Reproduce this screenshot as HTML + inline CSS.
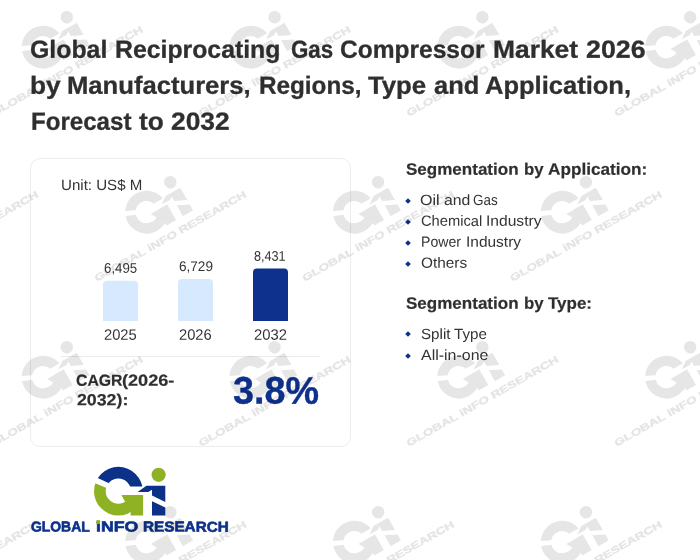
<!DOCTYPE html>
<html lang="en">
<head>
<meta charset="utf-8">
<title>Global Reciprocating Gas Compressor Market 2026</title>
<style>
  html, body { margin: 0; padding: 0; }
  body {
    width: 700px; height: 560px; overflow: hidden; position: relative;
    background: #ffffff;
    font-family: "Liberation Sans", sans-serif;
    color: #333333;
  }
  .g { margin: 0; padding: 0; font-size: inherit; font-weight: inherit; list-style: none; display: block; }
  .abs { position: absolute; display: block; white-space: nowrap; line-height: 1; transform-origin: 0 0; }
  .layer { position: absolute; left: 0; top: 0; width: 700px; height: 560px; will-change: transform; }
  #wm { position: absolute; left: 0; top: 0; width: 700px; height: 560px; pointer-events: none; }
  #logo { position: absolute; left: 0; top: 440px; width: 350px; height: 120px; }

  .title { font-weight: bold; color: #2f2f2f; -webkit-text-stroke: 0.3px #2f2f2f; }
  .card {
    position: absolute; left: 30px; top: 158px; width: 319px; height: 287px;
    border: 1px solid #eaecef; border-radius: 10px;
  }
  .unit, .val, .yr, .li { color: #333333; }
  .sep { position: absolute; left: 61px; top: 356px; width: 259px; height: 1px; background: #e9ebee; }
  .cagr { font-weight: bold; color: #2f2f2f; -webkit-text-stroke: 0.2px #2f2f2f; }
  .big { font-weight: bold; color: #0d318c; -webkit-text-stroke: 0.4px #0d318c; }
  .h { font-weight: bold; color: #2f2f2f; -webkit-text-stroke: 0.2px #2f2f2f; }
  .lg { font-weight: bold; color: #0c3189; -webkit-text-stroke: 0.6px #0c3189; }
  .idot { position: absolute; left: 95.6px; top: 520.4px; width: 4.6px; height: 3.8px; border-radius: 2.2px 2.2px 1.2px 1.2px; background: #8fb124; }
  .dia { position: absolute; width: 4px; height: 4px; background: #0d318c; transform: rotate(45deg); }
</style>
</head>
<body>
<div class="layer">
  <div class="card"></div>

  <svg id="bars" width="700" height="560" viewBox="0 0 700 560" style="position:absolute;left:0;top:0"><path fill="#d7e9fe" d="M103,321.1V284.7a4,4 0 0 1 4,-4h27a4,4 0 0 1 4,4V321.1Z"/><path fill="#d7e9fe" d="M178,321.1V283.0a4,4 0 0 1 4,-4h27a4,4 0 0 1 4,4V321.1Z"/><path fill="#0d318c" d="M253,321.1V272.5a4,4 0 0 1 4,-4h27a4,4 0 0 1 4,4V321.1Z"/></svg>
  <div class="sep"></div>

  <div class="dia" style="left:406.2px; top:198.9px;"></div>
  <div class="dia" style="left:406.2px; top:219.8px;"></div>
  <div class="dia" style="left:406.2px; top:240.9px;"></div>
  <div class="dia" style="left:406.2px; top:261.7px;"></div>
  <div class="dia" style="left:406.2px; top:332.3px;"></div>
  <div class="dia" style="left:406.2px; top:353.8px;"></div>

  <h1 class="g">
    <span class="g"><span class="abs title" id="t1a" style="left:30.20px; top:37px; font-size:24.8px; transform:translateY(0.70px) scaleX(1.0027) rotate(0.03deg);">Global</span> <span class="abs title" id="t1b" style="left:115.25px; top:37px; font-size:24.8px; transform:translateY(0.70px) scaleX(1.0006) rotate(0.03deg);">Reciprocating</span> <span class="abs title" id="t1c" style="left:290.50px; top:37px; font-size:24.8px; transform:translateY(0.70px) scaleX(0.8983) rotate(0.03deg);">Gas</span> <span class="abs title" id="t1d" style="left:339.91px; top:37px; font-size:24.8px; transform:translateY(0.70px) scaleX(0.9893) rotate(0.03deg);">Compressor</span> <span class="abs title" id="t1e" style="left:492.54px; top:37px; font-size:24.8px; transform:translateY(0.70px) scaleX(1.0641) rotate(0.03deg);">Market</span> <span class="abs title" id="t1f" style="left:585.59px; top:37px; font-size:24.8px; transform:translateY(0.70px) scaleX(1.0804) rotate(0.03deg);">2026</span></span>
    <span class="g"><span class="abs title" id="t2a" style="left:29.55px; top:73px; font-size:24.8px; transform:translateY(0.75px) scaleX(1.0593) rotate(0.03deg);">by</span> <span class="abs title" id="t2b" style="left:67.29px; top:73px; font-size:24.8px; transform:translateY(0.75px) scaleX(1.0336) rotate(0.03deg);">Manufacturers,</span> <span class="abs title" id="t2c" style="left:259.09px; top:73px; font-size:24.8px; transform:translateY(0.75px) scaleX(0.9788) rotate(0.03deg);">Regions,</span> <span class="abs title" id="t2d" style="left:368.34px; top:73px; font-size:24.8px; transform:translateY(0.75px) scaleX(1.0382) rotate(0.03deg);">Type</span> <span class="abs title" id="t2e" style="left:433.53px; top:73px; font-size:24.8px; transform:translateY(0.75px) scaleX(1.0251) rotate(0.03deg);">and</span> <span class="abs title" id="t2f" style="left:485.23px; top:73px; font-size:24.8px; transform:translateY(0.75px) scaleX(1.0294) rotate(0.03deg);">Application,</span></span>
    <span class="g"><span class="abs title" id="t3a" style="left:30.60px; top:109px; font-size:24.8px; transform:translateY(0.80px) scaleX(0.9719) rotate(0.03deg);">Forecast</span> <span class="abs title" id="t3b" style="left:139.03px; top:109px; font-size:24.8px; transform:translateY(0.80px) scaleX(1.0607) rotate(0.03deg);">to</span> <span class="abs title" id="t3c" style="left:171.30px; top:109px; font-size:24.8px; transform:translateY(0.80px) scaleX(1.0636) rotate(0.03deg);">2032</span></span>
  </h1>
  <div class="g">
    <div class="g"><span class="abs unit" id="unit" style="left:60.52px; top:178px; font-size:14.8px; transform:translateY(0.05px) scaleX(1.0201) rotate(0.03deg);">Unit: US$ M</span></div>
    <div class="g"><span class="abs val" id="v1" style="left:104.19px; top:260px; font-size:14.0px; transform:translateY(0.70px) scaleX(0.9481) rotate(0.03deg);">6,495</span> <span class="abs val" id="v2" style="left:178.87px; top:259px; font-size:14.0px; transform:translateY(0.00px) scaleX(0.9701) rotate(0.03deg);">6,729</span> <span class="abs val" id="v3" style="left:254.15px; top:248px; font-size:14.0px; transform:translateY(0.80px) scaleX(0.9037) rotate(0.03deg);">8,431</span></div>
    <div class="g"><span class="abs yr" id="y1" style="left:104.16px; top:326px; font-size:15.0px; transform:translateY(0.83px) scaleX(0.9813) rotate(0.03deg);">2025</span> <span class="abs yr" id="y2" style="left:179.16px; top:326px; font-size:15.0px; transform:translateY(0.83px) scaleX(0.9813) rotate(0.03deg);">2026</span> <span class="abs yr" id="y3" style="left:254.16px; top:326px; font-size:15.0px; transform:translateY(0.83px) scaleX(0.9890) rotate(0.03deg);">2032</span></div>
    <div class="g"><span class="abs cagr" id="c1a" style="left:76.16px; top:372px; font-size:16.0px; transform:translateY(0.70px) scaleX(0.9870) rotate(0.03deg);">CAGR</span><span class="abs cagr" id="c1b" style="left:122.15px; top:372px; font-size:16.0px; transform:translateY(0.70px) scaleX(1.1330) rotate(0.03deg);">(2026-</span> <span class="abs cagr" id="c2" style="left:76.55px; top:392px; font-size:16.0px; transform:translateY(0.30px) scaleX(1.1096) rotate(0.03deg);">2032):</span></div>
    <div class="g"><span class="abs big" id="big" style="left:233.42px; top:371px; font-size:38.3px; transform:translateY(0.60px) scaleX(0.9842) rotate(0.03deg);">3.8%</span></div>
  </div>
  <h2 class="g"><span class="abs h" id="h1a" style="left:406.18px; top:160px; font-size:16.5px; transform:translateY(0.70px) scaleX(1.0316) rotate(0.03deg);">Segmentation</span> <span class="abs h" id="h1b" style="left:523.98px; top:160px; font-size:16.5px; transform:translateY(0.70px) scaleX(1.0167) rotate(0.03deg);">by</span> <span class="abs h" id="h1c" style="left:548.28px; top:160px; font-size:16.5px; transform:translateY(0.70px) scaleX(1.0413) rotate(0.03deg);">Application:</span></h2>
  <ul class="g">
    <li class="g"><span class="abs li" id="l1a" style="left:420.49px; top:192px; font-size:14.8px; transform:translateY(0.95px) scaleX(1.0831) rotate(0.03deg);">Oil</span> <span class="abs li" id="l1b" style="left:443.60px; top:192px; font-size:14.8px; transform:translateY(0.95px) scaleX(1.0696) rotate(0.03deg);">and</span> <span class="abs li" id="l1c" style="left:473.32px; top:192px; font-size:14.8px; transform:translateY(0.95px) scaleX(0.9087) rotate(0.03deg);">Gas</span></li>
    <li class="g"><span class="abs li" id="l2a" style="left:420.65px; top:213px; font-size:14.8px; transform:translateY(0.85px) scaleX(0.9933) rotate(0.03deg);">Chemical</span> <span class="abs li" id="l2b" style="left:486.08px; top:213px; font-size:14.8px; transform:translateY(0.85px) scaleX(1.0537) rotate(0.03deg);">Industry</span></li>
    <li class="g"><span class="abs li" id="l3a" style="left:420.81px; top:234px; font-size:14.8px; transform:translateY(0.75px) scaleX(0.9531) rotate(0.03deg);">Power</span> <span class="abs li" id="l3b" style="left:466.09px; top:234px; font-size:14.8px; transform:translateY(0.75px) scaleX(1.0459) rotate(0.03deg);">Industry</span></li>
    <li class="g"><span class="abs li" id="l4" style="left:420.62px; top:255px; font-size:14.8px; transform:translateY(0.65px) scaleX(1.0372) rotate(0.03deg);">Others</span></li>
  </ul>
  <h2 class="g"><span class="abs h" id="h2a" style="left:406.18px; top:294px; font-size:16.5px; transform:translateY(0.70px) scaleX(1.0316) rotate(0.03deg);">Segmentation</span> <span class="abs h" id="h2b" style="left:523.98px; top:294px; font-size:16.5px; transform:translateY(0.70px) scaleX(1.0167) rotate(0.03deg);">by</span> <span class="abs h" id="h2c" style="left:548.34px; top:294px; font-size:16.5px; transform:translateY(0.70px) scaleX(1.0293) rotate(0.03deg);">Type:</span></h2>
  <ul class="g">
    <li class="g"><span class="abs li" id="l5a" style="left:420.63px; top:327px; font-size:14.8px; transform:translateY(0.05px) scaleX(1.0248) rotate(0.03deg);">Split</span> <span class="abs li" id="l5b" style="left:453.92px; top:327px; font-size:14.8px; transform:translateY(0.05px) scaleX(1.0248) rotate(0.03deg);">Type</span></li>
    <li class="g"><span class="abs li" id="l6" style="left:421.40px; top:347px; font-size:14.8px; transform:translateY(0.95px) scaleX(1.0785) rotate(0.03deg);">All-in-one</span></li>
  </ul>
  <div class="g"><span class="abs lg" id="lga" style="left:30.72px; top:519px; font-size:14.4px; transform:translateY(0.60px) scaleX(0.9657) rotate(0.03deg);">GLOBAL</span> <span class="abs lg" id="lgb" style="left:95.67px; top:519px; font-size:14.4px; transform:translateY(0.60px) scaleX(1.2275) rotate(0.03deg);">iNFO</span> <span class="abs lg" id="lgc" style="left:143.04px; top:519px; font-size:14.4px; transform:translateY(0.60px) scaleX(1.0616) rotate(0.03deg);">RESEARCH</span></div>

  <svg id="logo" width="350" height="120" viewBox="0 440 350 120">
    <defs>
      <clipPath id="cb"><polygon points="85,471.9 118,487.4 118,486.6 150,486.6 150,460 85,460"/></clipPath>
      <clipPath id="cg"><polygon points="85,478.9 118,492.7 118,495.1 150,495.1 150,520 85,520"/></clipPath>
    </defs>
    <path clip-path="url(#cb)" fill="#0c3189" fill-rule="evenodd" d="M118.35,466.8a24.35,24.35 0 1 0 0,48.7a24.35,24.35 0 1 0 0,-48.7ZM118.35,478.55a12.6,12.6 0 1 1 0,25.2a12.6,12.6 0 1 1 0,-25.2Z"/>
    <path clip-path="url(#cg)" fill="#8fb124" fill-rule="evenodd" d="M118.35,466.8a24.35,24.35 0 1 0 0,48.7a24.35,24.35 0 1 0 0,-48.7ZM118.35,478.55a12.6,12.6 0 1 1 0,25.2a12.6,12.6 0 1 1 0,-25.2Z"/>
    <polygon fill="#8fb124" points="121.4,495.1 143.1,495.1 143.1,515.5 130.6,515.5 130.6,501 125,501.4"/>
    <circle fill="#8fb124" cx="158.6" cy="474.8" r="7.1"/>
    <polygon fill="#0c3189" points="137.6,492.1 146.4,485.8 165.3,485.8 165.3,502 152,495.6 152,489.8 148.3,492.1"/>
    <polygon fill="#0c3189" points="152,501.3 165.3,507.6 165.3,515.4 152,515.4"/>
  </svg>

  <div class="idot"></div>
</div>
<svg id="wm" width="700" height="560" viewBox="0 0 700 560">
<defs><clipPath id="wcb"><polygon points="85,471.9 118,487.4 118,486.6 150,486.6 150,460 85,460"/></clipPath><clipPath id="wcg"><polygon points="85,478.9 118,492.7 118,495.1 150,495.1 150,520 85,520"/></clipPath></defs>
<g fill="#000000">
<g transform="translate(66.8,17.2) rotate(-29.6) scale(0.88) translate(-158.6,-474.8)"><g opacity="0.098"><path clip-path="url(#wcb)" fill-rule="evenodd" d="M118.35,466.8a24.35,24.35 0 1 0 0,48.7a24.35,24.35 0 1 0 0,-48.7ZM118.35,478.55a12.6,12.6 0 1 1 0,25.2a12.6,12.6 0 1 1 0,-25.2Z"/><path clip-path="url(#wcg)" fill-rule="evenodd" d="M118.35,466.8a24.35,24.35 0 1 0 0,48.7a24.35,24.35 0 1 0 0,-48.7ZM118.35,478.55a12.6,12.6 0 1 1 0,25.2a12.6,12.6 0 1 1 0,-25.2Z"/><polygon points="121.4,495.1 143.1,495.1 143.1,515.5 130.6,515.5 130.6,501 125,501.4"/><circle cx="158.6" cy="474.8" r="7.1"/><polygon points="137.6,492.1 146.4,485.8 165.3,485.8 165.3,502 152,495.6 152,489.8 148.3,492.1"/><polygon points="152,501.3 165.3,507.6 165.3,515.4 152,515.4"/></g><g opacity="0.105"><text x="30.2" y="532" font-family="'Liberation Sans', sans-serif" font-weight="bold" font-size="11.2" textLength="196.4" lengthAdjust="spacingAndGlyphs" stroke="#000000" stroke-width="0.45">GLOBAL iNFO RESEARCH</text></g></g>
<g transform="translate(274.6,17.2) rotate(-29.6) scale(0.88) translate(-158.6,-474.8)"><g opacity="0.098"><path clip-path="url(#wcb)" fill-rule="evenodd" d="M118.35,466.8a24.35,24.35 0 1 0 0,48.7a24.35,24.35 0 1 0 0,-48.7ZM118.35,478.55a12.6,12.6 0 1 1 0,25.2a12.6,12.6 0 1 1 0,-25.2Z"/><path clip-path="url(#wcg)" fill-rule="evenodd" d="M118.35,466.8a24.35,24.35 0 1 0 0,48.7a24.35,24.35 0 1 0 0,-48.7ZM118.35,478.55a12.6,12.6 0 1 1 0,25.2a12.6,12.6 0 1 1 0,-25.2Z"/><polygon points="121.4,495.1 143.1,495.1 143.1,515.5 130.6,515.5 130.6,501 125,501.4"/><circle cx="158.6" cy="474.8" r="7.1"/><polygon points="137.6,492.1 146.4,485.8 165.3,485.8 165.3,502 152,495.6 152,489.8 148.3,492.1"/><polygon points="152,501.3 165.3,507.6 165.3,515.4 152,515.4"/></g><g opacity="0.105"><text x="30.2" y="532" font-family="'Liberation Sans', sans-serif" font-weight="bold" font-size="11.2" textLength="196.4" lengthAdjust="spacingAndGlyphs" stroke="#000000" stroke-width="0.45">GLOBAL iNFO RESEARCH</text></g></g>
<g transform="translate(482.4,17.2) rotate(-29.6) scale(0.88) translate(-158.6,-474.8)"><g opacity="0.098"><path clip-path="url(#wcb)" fill-rule="evenodd" d="M118.35,466.8a24.35,24.35 0 1 0 0,48.7a24.35,24.35 0 1 0 0,-48.7ZM118.35,478.55a12.6,12.6 0 1 1 0,25.2a12.6,12.6 0 1 1 0,-25.2Z"/><path clip-path="url(#wcg)" fill-rule="evenodd" d="M118.35,466.8a24.35,24.35 0 1 0 0,48.7a24.35,24.35 0 1 0 0,-48.7ZM118.35,478.55a12.6,12.6 0 1 1 0,25.2a12.6,12.6 0 1 1 0,-25.2Z"/><polygon points="121.4,495.1 143.1,495.1 143.1,515.5 130.6,515.5 130.6,501 125,501.4"/><circle cx="158.6" cy="474.8" r="7.1"/><polygon points="137.6,492.1 146.4,485.8 165.3,485.8 165.3,502 152,495.6 152,489.8 148.3,492.1"/><polygon points="152,501.3 165.3,507.6 165.3,515.4 152,515.4"/></g><g opacity="0.105"><text x="30.2" y="532" font-family="'Liberation Sans', sans-serif" font-weight="bold" font-size="11.2" textLength="196.4" lengthAdjust="spacingAndGlyphs" stroke="#000000" stroke-width="0.45">GLOBAL iNFO RESEARCH</text></g></g>
<g transform="translate(690.2,17.2) rotate(-29.6) scale(0.88) translate(-158.6,-474.8)"><g opacity="0.098"><path clip-path="url(#wcb)" fill-rule="evenodd" d="M118.35,466.8a24.35,24.35 0 1 0 0,48.7a24.35,24.35 0 1 0 0,-48.7ZM118.35,478.55a12.6,12.6 0 1 1 0,25.2a12.6,12.6 0 1 1 0,-25.2Z"/><path clip-path="url(#wcg)" fill-rule="evenodd" d="M118.35,466.8a24.35,24.35 0 1 0 0,48.7a24.35,24.35 0 1 0 0,-48.7ZM118.35,478.55a12.6,12.6 0 1 1 0,25.2a12.6,12.6 0 1 1 0,-25.2Z"/><polygon points="121.4,495.1 143.1,495.1 143.1,515.5 130.6,515.5 130.6,501 125,501.4"/><circle cx="158.6" cy="474.8" r="7.1"/><polygon points="137.6,492.1 146.4,485.8 165.3,485.8 165.3,502 152,495.6 152,489.8 148.3,492.1"/><polygon points="152,501.3 165.3,507.6 165.3,515.4 152,515.4"/></g><g opacity="0.105"><text x="30.2" y="532" font-family="'Liberation Sans', sans-serif" font-weight="bold" font-size="11.2" textLength="196.4" lengthAdjust="spacingAndGlyphs" stroke="#000000" stroke-width="0.45">GLOBAL iNFO RESEARCH</text></g></g>
<g transform="translate(-37.5,182.2) rotate(-29.6) scale(0.88) translate(-158.6,-474.8)"><g opacity="0.098"><path clip-path="url(#wcb)" fill-rule="evenodd" d="M118.35,466.8a24.35,24.35 0 1 0 0,48.7a24.35,24.35 0 1 0 0,-48.7ZM118.35,478.55a12.6,12.6 0 1 1 0,25.2a12.6,12.6 0 1 1 0,-25.2Z"/><path clip-path="url(#wcg)" fill-rule="evenodd" d="M118.35,466.8a24.35,24.35 0 1 0 0,48.7a24.35,24.35 0 1 0 0,-48.7ZM118.35,478.55a12.6,12.6 0 1 1 0,25.2a12.6,12.6 0 1 1 0,-25.2Z"/><polygon points="121.4,495.1 143.1,495.1 143.1,515.5 130.6,515.5 130.6,501 125,501.4"/><circle cx="158.6" cy="474.8" r="7.1"/><polygon points="137.6,492.1 146.4,485.8 165.3,485.8 165.3,502 152,495.6 152,489.8 148.3,492.1"/><polygon points="152,501.3 165.3,507.6 165.3,515.4 152,515.4"/></g><g opacity="0.105"><text x="30.2" y="532" font-family="'Liberation Sans', sans-serif" font-weight="bold" font-size="11.2" textLength="196.4" lengthAdjust="spacingAndGlyphs" stroke="#000000" stroke-width="0.45">GLOBAL iNFO RESEARCH</text></g></g>
<g transform="translate(170.3,182.2) rotate(-29.6) scale(0.88) translate(-158.6,-474.8)"><g opacity="0.098"><path clip-path="url(#wcb)" fill-rule="evenodd" d="M118.35,466.8a24.35,24.35 0 1 0 0,48.7a24.35,24.35 0 1 0 0,-48.7ZM118.35,478.55a12.6,12.6 0 1 1 0,25.2a12.6,12.6 0 1 1 0,-25.2Z"/><path clip-path="url(#wcg)" fill-rule="evenodd" d="M118.35,466.8a24.35,24.35 0 1 0 0,48.7a24.35,24.35 0 1 0 0,-48.7ZM118.35,478.55a12.6,12.6 0 1 1 0,25.2a12.6,12.6 0 1 1 0,-25.2Z"/><polygon points="121.4,495.1 143.1,495.1 143.1,515.5 130.6,515.5 130.6,501 125,501.4"/><circle cx="158.6" cy="474.8" r="7.1"/><polygon points="137.6,492.1 146.4,485.8 165.3,485.8 165.3,502 152,495.6 152,489.8 148.3,492.1"/><polygon points="152,501.3 165.3,507.6 165.3,515.4 152,515.4"/></g><g opacity="0.105"><text x="30.2" y="532" font-family="'Liberation Sans', sans-serif" font-weight="bold" font-size="11.2" textLength="196.4" lengthAdjust="spacingAndGlyphs" stroke="#000000" stroke-width="0.45">GLOBAL iNFO RESEARCH</text></g></g>
<g transform="translate(378.1,182.2) rotate(-29.6) scale(0.88) translate(-158.6,-474.8)"><g opacity="0.098"><path clip-path="url(#wcb)" fill-rule="evenodd" d="M118.35,466.8a24.35,24.35 0 1 0 0,48.7a24.35,24.35 0 1 0 0,-48.7ZM118.35,478.55a12.6,12.6 0 1 1 0,25.2a12.6,12.6 0 1 1 0,-25.2Z"/><path clip-path="url(#wcg)" fill-rule="evenodd" d="M118.35,466.8a24.35,24.35 0 1 0 0,48.7a24.35,24.35 0 1 0 0,-48.7ZM118.35,478.55a12.6,12.6 0 1 1 0,25.2a12.6,12.6 0 1 1 0,-25.2Z"/><polygon points="121.4,495.1 143.1,495.1 143.1,515.5 130.6,515.5 130.6,501 125,501.4"/><circle cx="158.6" cy="474.8" r="7.1"/><polygon points="137.6,492.1 146.4,485.8 165.3,485.8 165.3,502 152,495.6 152,489.8 148.3,492.1"/><polygon points="152,501.3 165.3,507.6 165.3,515.4 152,515.4"/></g><g opacity="0.105"><text x="30.2" y="532" font-family="'Liberation Sans', sans-serif" font-weight="bold" font-size="11.2" textLength="196.4" lengthAdjust="spacingAndGlyphs" stroke="#000000" stroke-width="0.45">GLOBAL iNFO RESEARCH</text></g></g>
<g transform="translate(585.9,182.2) rotate(-29.6) scale(0.88) translate(-158.6,-474.8)"><g opacity="0.098"><path clip-path="url(#wcb)" fill-rule="evenodd" d="M118.35,466.8a24.35,24.35 0 1 0 0,48.7a24.35,24.35 0 1 0 0,-48.7ZM118.35,478.55a12.6,12.6 0 1 1 0,25.2a12.6,12.6 0 1 1 0,-25.2Z"/><path clip-path="url(#wcg)" fill-rule="evenodd" d="M118.35,466.8a24.35,24.35 0 1 0 0,48.7a24.35,24.35 0 1 0 0,-48.7ZM118.35,478.55a12.6,12.6 0 1 1 0,25.2a12.6,12.6 0 1 1 0,-25.2Z"/><polygon points="121.4,495.1 143.1,495.1 143.1,515.5 130.6,515.5 130.6,501 125,501.4"/><circle cx="158.6" cy="474.8" r="7.1"/><polygon points="137.6,492.1 146.4,485.8 165.3,485.8 165.3,502 152,495.6 152,489.8 148.3,492.1"/><polygon points="152,501.3 165.3,507.6 165.3,515.4 152,515.4"/></g><g opacity="0.105"><text x="30.2" y="532" font-family="'Liberation Sans', sans-serif" font-weight="bold" font-size="11.2" textLength="196.4" lengthAdjust="spacingAndGlyphs" stroke="#000000" stroke-width="0.45">GLOBAL iNFO RESEARCH</text></g></g>
<g transform="translate(793.7,182.2) rotate(-29.6) scale(0.88) translate(-158.6,-474.8)"><g opacity="0.098"><path clip-path="url(#wcb)" fill-rule="evenodd" d="M118.35,466.8a24.35,24.35 0 1 0 0,48.7a24.35,24.35 0 1 0 0,-48.7ZM118.35,478.55a12.6,12.6 0 1 1 0,25.2a12.6,12.6 0 1 1 0,-25.2Z"/><path clip-path="url(#wcg)" fill-rule="evenodd" d="M118.35,466.8a24.35,24.35 0 1 0 0,48.7a24.35,24.35 0 1 0 0,-48.7ZM118.35,478.55a12.6,12.6 0 1 1 0,25.2a12.6,12.6 0 1 1 0,-25.2Z"/><polygon points="121.4,495.1 143.1,495.1 143.1,515.5 130.6,515.5 130.6,501 125,501.4"/><circle cx="158.6" cy="474.8" r="7.1"/><polygon points="137.6,492.1 146.4,485.8 165.3,485.8 165.3,502 152,495.6 152,489.8 148.3,492.1"/><polygon points="152,501.3 165.3,507.6 165.3,515.4 152,515.4"/></g><g opacity="0.105"><text x="30.2" y="532" font-family="'Liberation Sans', sans-serif" font-weight="bold" font-size="11.2" textLength="196.4" lengthAdjust="spacingAndGlyphs" stroke="#000000" stroke-width="0.45">GLOBAL iNFO RESEARCH</text></g></g>
<g transform="translate(66.8,347.2) rotate(-29.6) scale(0.88) translate(-158.6,-474.8)"><g opacity="0.098"><path clip-path="url(#wcb)" fill-rule="evenodd" d="M118.35,466.8a24.35,24.35 0 1 0 0,48.7a24.35,24.35 0 1 0 0,-48.7ZM118.35,478.55a12.6,12.6 0 1 1 0,25.2a12.6,12.6 0 1 1 0,-25.2Z"/><path clip-path="url(#wcg)" fill-rule="evenodd" d="M118.35,466.8a24.35,24.35 0 1 0 0,48.7a24.35,24.35 0 1 0 0,-48.7ZM118.35,478.55a12.6,12.6 0 1 1 0,25.2a12.6,12.6 0 1 1 0,-25.2Z"/><polygon points="121.4,495.1 143.1,495.1 143.1,515.5 130.6,515.5 130.6,501 125,501.4"/><circle cx="158.6" cy="474.8" r="7.1"/><polygon points="137.6,492.1 146.4,485.8 165.3,485.8 165.3,502 152,495.6 152,489.8 148.3,492.1"/><polygon points="152,501.3 165.3,507.6 165.3,515.4 152,515.4"/></g><g opacity="0.105"><text x="30.2" y="532" font-family="'Liberation Sans', sans-serif" font-weight="bold" font-size="11.2" textLength="196.4" lengthAdjust="spacingAndGlyphs" stroke="#000000" stroke-width="0.45">GLOBAL iNFO RESEARCH</text></g></g>
<g transform="translate(274.6,347.2) rotate(-29.6) scale(0.88) translate(-158.6,-474.8)"><g opacity="0.098"><path clip-path="url(#wcb)" fill-rule="evenodd" d="M118.35,466.8a24.35,24.35 0 1 0 0,48.7a24.35,24.35 0 1 0 0,-48.7ZM118.35,478.55a12.6,12.6 0 1 1 0,25.2a12.6,12.6 0 1 1 0,-25.2Z"/><path clip-path="url(#wcg)" fill-rule="evenodd" d="M118.35,466.8a24.35,24.35 0 1 0 0,48.7a24.35,24.35 0 1 0 0,-48.7ZM118.35,478.55a12.6,12.6 0 1 1 0,25.2a12.6,12.6 0 1 1 0,-25.2Z"/><polygon points="121.4,495.1 143.1,495.1 143.1,515.5 130.6,515.5 130.6,501 125,501.4"/><circle cx="158.6" cy="474.8" r="7.1"/><polygon points="137.6,492.1 146.4,485.8 165.3,485.8 165.3,502 152,495.6 152,489.8 148.3,492.1"/><polygon points="152,501.3 165.3,507.6 165.3,515.4 152,515.4"/></g><g opacity="0.105"><text x="30.2" y="532" font-family="'Liberation Sans', sans-serif" font-weight="bold" font-size="11.2" textLength="196.4" lengthAdjust="spacingAndGlyphs" stroke="#000000" stroke-width="0.45">GLOBAL iNFO RESEARCH</text></g></g>
<g transform="translate(482.4,347.2) rotate(-29.6) scale(0.88) translate(-158.6,-474.8)"><g opacity="0.098"><path clip-path="url(#wcb)" fill-rule="evenodd" d="M118.35,466.8a24.35,24.35 0 1 0 0,48.7a24.35,24.35 0 1 0 0,-48.7ZM118.35,478.55a12.6,12.6 0 1 1 0,25.2a12.6,12.6 0 1 1 0,-25.2Z"/><path clip-path="url(#wcg)" fill-rule="evenodd" d="M118.35,466.8a24.35,24.35 0 1 0 0,48.7a24.35,24.35 0 1 0 0,-48.7ZM118.35,478.55a12.6,12.6 0 1 1 0,25.2a12.6,12.6 0 1 1 0,-25.2Z"/><polygon points="121.4,495.1 143.1,495.1 143.1,515.5 130.6,515.5 130.6,501 125,501.4"/><circle cx="158.6" cy="474.8" r="7.1"/><polygon points="137.6,492.1 146.4,485.8 165.3,485.8 165.3,502 152,495.6 152,489.8 148.3,492.1"/><polygon points="152,501.3 165.3,507.6 165.3,515.4 152,515.4"/></g><g opacity="0.105"><text x="30.2" y="532" font-family="'Liberation Sans', sans-serif" font-weight="bold" font-size="11.2" textLength="196.4" lengthAdjust="spacingAndGlyphs" stroke="#000000" stroke-width="0.45">GLOBAL iNFO RESEARCH</text></g></g>
<g transform="translate(690.2,347.2) rotate(-29.6) scale(0.88) translate(-158.6,-474.8)"><g opacity="0.098"><path clip-path="url(#wcb)" fill-rule="evenodd" d="M118.35,466.8a24.35,24.35 0 1 0 0,48.7a24.35,24.35 0 1 0 0,-48.7ZM118.35,478.55a12.6,12.6 0 1 1 0,25.2a12.6,12.6 0 1 1 0,-25.2Z"/><path clip-path="url(#wcg)" fill-rule="evenodd" d="M118.35,466.8a24.35,24.35 0 1 0 0,48.7a24.35,24.35 0 1 0 0,-48.7ZM118.35,478.55a12.6,12.6 0 1 1 0,25.2a12.6,12.6 0 1 1 0,-25.2Z"/><polygon points="121.4,495.1 143.1,495.1 143.1,515.5 130.6,515.5 130.6,501 125,501.4"/><circle cx="158.6" cy="474.8" r="7.1"/><polygon points="137.6,492.1 146.4,485.8 165.3,485.8 165.3,502 152,495.6 152,489.8 148.3,492.1"/><polygon points="152,501.3 165.3,507.6 165.3,515.4 152,515.4"/></g><g opacity="0.105"><text x="30.2" y="532" font-family="'Liberation Sans', sans-serif" font-weight="bold" font-size="11.2" textLength="196.4" lengthAdjust="spacingAndGlyphs" stroke="#000000" stroke-width="0.45">GLOBAL iNFO RESEARCH</text></g></g>
<g transform="translate(-37.5,512.2) rotate(-29.6) scale(0.88) translate(-158.6,-474.8)"><g opacity="0.098"><path clip-path="url(#wcb)" fill-rule="evenodd" d="M118.35,466.8a24.35,24.35 0 1 0 0,48.7a24.35,24.35 0 1 0 0,-48.7ZM118.35,478.55a12.6,12.6 0 1 1 0,25.2a12.6,12.6 0 1 1 0,-25.2Z"/><path clip-path="url(#wcg)" fill-rule="evenodd" d="M118.35,466.8a24.35,24.35 0 1 0 0,48.7a24.35,24.35 0 1 0 0,-48.7ZM118.35,478.55a12.6,12.6 0 1 1 0,25.2a12.6,12.6 0 1 1 0,-25.2Z"/><polygon points="121.4,495.1 143.1,495.1 143.1,515.5 130.6,515.5 130.6,501 125,501.4"/><circle cx="158.6" cy="474.8" r="7.1"/><polygon points="137.6,492.1 146.4,485.8 165.3,485.8 165.3,502 152,495.6 152,489.8 148.3,492.1"/><polygon points="152,501.3 165.3,507.6 165.3,515.4 152,515.4"/></g><g opacity="0.105"><text x="30.2" y="532" font-family="'Liberation Sans', sans-serif" font-weight="bold" font-size="11.2" textLength="196.4" lengthAdjust="spacingAndGlyphs" stroke="#000000" stroke-width="0.45">GLOBAL iNFO RESEARCH</text></g></g>
<g transform="translate(170.3,512.2) rotate(-29.6) scale(0.88) translate(-158.6,-474.8)"><g opacity="0.098"><path clip-path="url(#wcb)" fill-rule="evenodd" d="M118.35,466.8a24.35,24.35 0 1 0 0,48.7a24.35,24.35 0 1 0 0,-48.7ZM118.35,478.55a12.6,12.6 0 1 1 0,25.2a12.6,12.6 0 1 1 0,-25.2Z"/><path clip-path="url(#wcg)" fill-rule="evenodd" d="M118.35,466.8a24.35,24.35 0 1 0 0,48.7a24.35,24.35 0 1 0 0,-48.7ZM118.35,478.55a12.6,12.6 0 1 1 0,25.2a12.6,12.6 0 1 1 0,-25.2Z"/><polygon points="121.4,495.1 143.1,495.1 143.1,515.5 130.6,515.5 130.6,501 125,501.4"/><circle cx="158.6" cy="474.8" r="7.1"/><polygon points="137.6,492.1 146.4,485.8 165.3,485.8 165.3,502 152,495.6 152,489.8 148.3,492.1"/><polygon points="152,501.3 165.3,507.6 165.3,515.4 152,515.4"/></g><g opacity="0.105"><text x="30.2" y="532" font-family="'Liberation Sans', sans-serif" font-weight="bold" font-size="11.2" textLength="196.4" lengthAdjust="spacingAndGlyphs" stroke="#000000" stroke-width="0.45">GLOBAL iNFO RESEARCH</text></g></g>
<g transform="translate(378.1,512.2) rotate(-29.6) scale(0.88) translate(-158.6,-474.8)"><g opacity="0.098"><path clip-path="url(#wcb)" fill-rule="evenodd" d="M118.35,466.8a24.35,24.35 0 1 0 0,48.7a24.35,24.35 0 1 0 0,-48.7ZM118.35,478.55a12.6,12.6 0 1 1 0,25.2a12.6,12.6 0 1 1 0,-25.2Z"/><path clip-path="url(#wcg)" fill-rule="evenodd" d="M118.35,466.8a24.35,24.35 0 1 0 0,48.7a24.35,24.35 0 1 0 0,-48.7ZM118.35,478.55a12.6,12.6 0 1 1 0,25.2a12.6,12.6 0 1 1 0,-25.2Z"/><polygon points="121.4,495.1 143.1,495.1 143.1,515.5 130.6,515.5 130.6,501 125,501.4"/><circle cx="158.6" cy="474.8" r="7.1"/><polygon points="137.6,492.1 146.4,485.8 165.3,485.8 165.3,502 152,495.6 152,489.8 148.3,492.1"/><polygon points="152,501.3 165.3,507.6 165.3,515.4 152,515.4"/></g><g opacity="0.105"><text x="30.2" y="532" font-family="'Liberation Sans', sans-serif" font-weight="bold" font-size="11.2" textLength="196.4" lengthAdjust="spacingAndGlyphs" stroke="#000000" stroke-width="0.45">GLOBAL iNFO RESEARCH</text></g></g>
<g transform="translate(585.9,512.2) rotate(-29.6) scale(0.88) translate(-158.6,-474.8)"><g opacity="0.098"><path clip-path="url(#wcb)" fill-rule="evenodd" d="M118.35,466.8a24.35,24.35 0 1 0 0,48.7a24.35,24.35 0 1 0 0,-48.7ZM118.35,478.55a12.6,12.6 0 1 1 0,25.2a12.6,12.6 0 1 1 0,-25.2Z"/><path clip-path="url(#wcg)" fill-rule="evenodd" d="M118.35,466.8a24.35,24.35 0 1 0 0,48.7a24.35,24.35 0 1 0 0,-48.7ZM118.35,478.55a12.6,12.6 0 1 1 0,25.2a12.6,12.6 0 1 1 0,-25.2Z"/><polygon points="121.4,495.1 143.1,495.1 143.1,515.5 130.6,515.5 130.6,501 125,501.4"/><circle cx="158.6" cy="474.8" r="7.1"/><polygon points="137.6,492.1 146.4,485.8 165.3,485.8 165.3,502 152,495.6 152,489.8 148.3,492.1"/><polygon points="152,501.3 165.3,507.6 165.3,515.4 152,515.4"/></g><g opacity="0.105"><text x="30.2" y="532" font-family="'Liberation Sans', sans-serif" font-weight="bold" font-size="11.2" textLength="196.4" lengthAdjust="spacingAndGlyphs" stroke="#000000" stroke-width="0.45">GLOBAL iNFO RESEARCH</text></g></g>
<g transform="translate(793.7,512.2) rotate(-29.6) scale(0.88) translate(-158.6,-474.8)"><g opacity="0.098"><path clip-path="url(#wcb)" fill-rule="evenodd" d="M118.35,466.8a24.35,24.35 0 1 0 0,48.7a24.35,24.35 0 1 0 0,-48.7ZM118.35,478.55a12.6,12.6 0 1 1 0,25.2a12.6,12.6 0 1 1 0,-25.2Z"/><path clip-path="url(#wcg)" fill-rule="evenodd" d="M118.35,466.8a24.35,24.35 0 1 0 0,48.7a24.35,24.35 0 1 0 0,-48.7ZM118.35,478.55a12.6,12.6 0 1 1 0,25.2a12.6,12.6 0 1 1 0,-25.2Z"/><polygon points="121.4,495.1 143.1,495.1 143.1,515.5 130.6,515.5 130.6,501 125,501.4"/><circle cx="158.6" cy="474.8" r="7.1"/><polygon points="137.6,492.1 146.4,485.8 165.3,485.8 165.3,502 152,495.6 152,489.8 148.3,492.1"/><polygon points="152,501.3 165.3,507.6 165.3,515.4 152,515.4"/></g><g opacity="0.105"><text x="30.2" y="532" font-family="'Liberation Sans', sans-serif" font-weight="bold" font-size="11.2" textLength="196.4" lengthAdjust="spacingAndGlyphs" stroke="#000000" stroke-width="0.45">GLOBAL iNFO RESEARCH</text></g></g>
<g transform="translate(66.8,677.2) rotate(-29.6) scale(0.88) translate(-158.6,-474.8)"><g opacity="0.098"><path clip-path="url(#wcb)" fill-rule="evenodd" d="M118.35,466.8a24.35,24.35 0 1 0 0,48.7a24.35,24.35 0 1 0 0,-48.7ZM118.35,478.55a12.6,12.6 0 1 1 0,25.2a12.6,12.6 0 1 1 0,-25.2Z"/><path clip-path="url(#wcg)" fill-rule="evenodd" d="M118.35,466.8a24.35,24.35 0 1 0 0,48.7a24.35,24.35 0 1 0 0,-48.7ZM118.35,478.55a12.6,12.6 0 1 1 0,25.2a12.6,12.6 0 1 1 0,-25.2Z"/><polygon points="121.4,495.1 143.1,495.1 143.1,515.5 130.6,515.5 130.6,501 125,501.4"/><circle cx="158.6" cy="474.8" r="7.1"/><polygon points="137.6,492.1 146.4,485.8 165.3,485.8 165.3,502 152,495.6 152,489.8 148.3,492.1"/><polygon points="152,501.3 165.3,507.6 165.3,515.4 152,515.4"/></g><g opacity="0.105"><text x="30.2" y="532" font-family="'Liberation Sans', sans-serif" font-weight="bold" font-size="11.2" textLength="196.4" lengthAdjust="spacingAndGlyphs" stroke="#000000" stroke-width="0.45">GLOBAL iNFO RESEARCH</text></g></g>
<g transform="translate(274.6,677.2) rotate(-29.6) scale(0.88) translate(-158.6,-474.8)"><g opacity="0.098"><path clip-path="url(#wcb)" fill-rule="evenodd" d="M118.35,466.8a24.35,24.35 0 1 0 0,48.7a24.35,24.35 0 1 0 0,-48.7ZM118.35,478.55a12.6,12.6 0 1 1 0,25.2a12.6,12.6 0 1 1 0,-25.2Z"/><path clip-path="url(#wcg)" fill-rule="evenodd" d="M118.35,466.8a24.35,24.35 0 1 0 0,48.7a24.35,24.35 0 1 0 0,-48.7ZM118.35,478.55a12.6,12.6 0 1 1 0,25.2a12.6,12.6 0 1 1 0,-25.2Z"/><polygon points="121.4,495.1 143.1,495.1 143.1,515.5 130.6,515.5 130.6,501 125,501.4"/><circle cx="158.6" cy="474.8" r="7.1"/><polygon points="137.6,492.1 146.4,485.8 165.3,485.8 165.3,502 152,495.6 152,489.8 148.3,492.1"/><polygon points="152,501.3 165.3,507.6 165.3,515.4 152,515.4"/></g><g opacity="0.105"><text x="30.2" y="532" font-family="'Liberation Sans', sans-serif" font-weight="bold" font-size="11.2" textLength="196.4" lengthAdjust="spacingAndGlyphs" stroke="#000000" stroke-width="0.45">GLOBAL iNFO RESEARCH</text></g></g>
<g transform="translate(482.4,677.2) rotate(-29.6) scale(0.88) translate(-158.6,-474.8)"><g opacity="0.098"><path clip-path="url(#wcb)" fill-rule="evenodd" d="M118.35,466.8a24.35,24.35 0 1 0 0,48.7a24.35,24.35 0 1 0 0,-48.7ZM118.35,478.55a12.6,12.6 0 1 1 0,25.2a12.6,12.6 0 1 1 0,-25.2Z"/><path clip-path="url(#wcg)" fill-rule="evenodd" d="M118.35,466.8a24.35,24.35 0 1 0 0,48.7a24.35,24.35 0 1 0 0,-48.7ZM118.35,478.55a12.6,12.6 0 1 1 0,25.2a12.6,12.6 0 1 1 0,-25.2Z"/><polygon points="121.4,495.1 143.1,495.1 143.1,515.5 130.6,515.5 130.6,501 125,501.4"/><circle cx="158.6" cy="474.8" r="7.1"/><polygon points="137.6,492.1 146.4,485.8 165.3,485.8 165.3,502 152,495.6 152,489.8 148.3,492.1"/><polygon points="152,501.3 165.3,507.6 165.3,515.4 152,515.4"/></g><g opacity="0.105"><text x="30.2" y="532" font-family="'Liberation Sans', sans-serif" font-weight="bold" font-size="11.2" textLength="196.4" lengthAdjust="spacingAndGlyphs" stroke="#000000" stroke-width="0.45">GLOBAL iNFO RESEARCH</text></g></g>
<g transform="translate(690.2,677.2) rotate(-29.6) scale(0.88) translate(-158.6,-474.8)"><g opacity="0.098"><path clip-path="url(#wcb)" fill-rule="evenodd" d="M118.35,466.8a24.35,24.35 0 1 0 0,48.7a24.35,24.35 0 1 0 0,-48.7ZM118.35,478.55a12.6,12.6 0 1 1 0,25.2a12.6,12.6 0 1 1 0,-25.2Z"/><path clip-path="url(#wcg)" fill-rule="evenodd" d="M118.35,466.8a24.35,24.35 0 1 0 0,48.7a24.35,24.35 0 1 0 0,-48.7ZM118.35,478.55a12.6,12.6 0 1 1 0,25.2a12.6,12.6 0 1 1 0,-25.2Z"/><polygon points="121.4,495.1 143.1,495.1 143.1,515.5 130.6,515.5 130.6,501 125,501.4"/><circle cx="158.6" cy="474.8" r="7.1"/><polygon points="137.6,492.1 146.4,485.8 165.3,485.8 165.3,502 152,495.6 152,489.8 148.3,492.1"/><polygon points="152,501.3 165.3,507.6 165.3,515.4 152,515.4"/></g><g opacity="0.105"><text x="30.2" y="532" font-family="'Liberation Sans', sans-serif" font-weight="bold" font-size="11.2" textLength="196.4" lengthAdjust="spacingAndGlyphs" stroke="#000000" stroke-width="0.45">GLOBAL iNFO RESEARCH</text></g></g>
</g></svg>
</body>
</html>
